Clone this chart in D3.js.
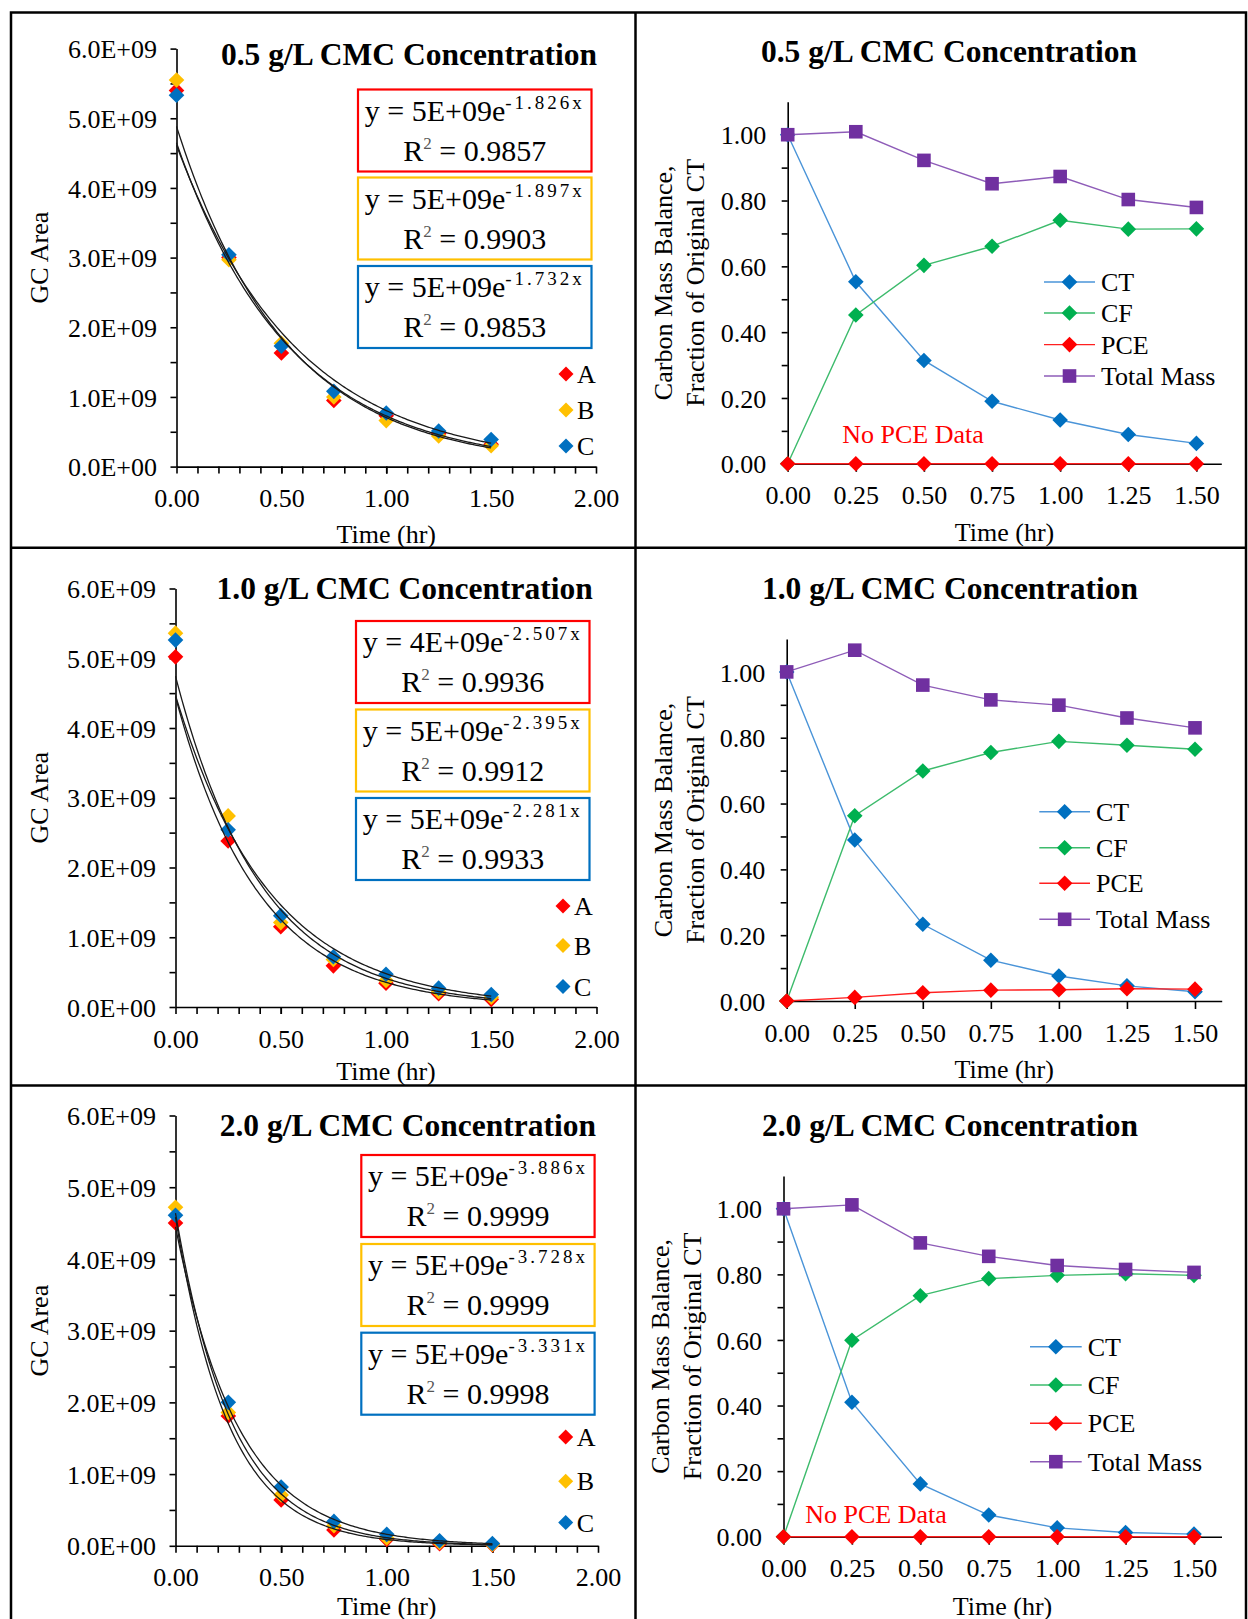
<!DOCTYPE html>
<html>
<head>
<meta charset="utf-8">
<script src="https://cdnjs.cloudflare.com/ajax/libs/d3/7.8.5/d3.min.js"></script>
<style>
  html, body { margin: 0; padding: 0; background: #fff; }
  svg text { font-family: "Liberation Serif", "Times New Roman", serif; fill: #000; }
</style>
</head>
<body>
<svg id="chart" width="1248" height="1619"></svg>
<script>
// ---- data ----
const times = [0, 0.25, 0.5, 0.75, 1.0, 1.25, 1.5];
const reps = ["A", "B", "C"];
const titles = ["0.5 g/L CMC Concentration", "1.0 g/L CMC Concentration", "2.0 g/L CMC Concentration"];

// GC area for replicate A, B, C
const gc05A = [5.40e9, 3.00e9, 1.63e9, 0.95e9, 0.73e9, 0.47e9, 0.32e9];
const gc05B = [5.55e9, 2.97e9, 1.77e9, 1.00e9, 0.66e9, 0.44e9, 0.30e9];
const gc05C = [5.33e9, 3.04e9, 1.73e9, 1.08e9, 0.77e9, 0.51e9, 0.39e9];

const gc10A = [5.02e9, 2.38e9, 1.15e9, 0.59e9, 0.34e9, 0.19e9, 0.11e9];
const gc10B = [5.36e9, 2.74e9, 1.21e9, 0.68e9, 0.38e9, 0.22e9, 0.14e9];
const gc10C = [5.26e9, 2.54e9, 1.31e9, 0.72e9, 0.47e9, 0.27e9, 0.18e9];

const gc20A = [4.50e9, 1.81e9, 0.64e9, 0.22e9, 0.09e9, 0.03e9, 0.013e9];
const gc20B = [4.72e9, 1.86e9, 0.71e9, 0.28e9, 0.11e9, 0.045e9, 0.018e9];
const gc20C = [4.61e9, 2.00e9, 0.82e9, 0.34e9, 0.16e9, 0.07e9, 0.032e9];

// trendline labels
const eqCoef05 = ["5E+09", "5E+09", "5E+09"];
const eqExp05 = ["-1.826", "-1.897", "-1.732"];
const eqR2_05 = ["0.9857", "0.9903", "0.9853"];
const eqCoef10 = ["4E+09", "5E+09", "5E+09"];
const eqExp10 = ["-2.507", "-2.395", "-2.281"];
const eqR2_10 = ["0.9936", "0.9912", "0.9933"];
const eqCoef20 = ["5E+09", "5E+09", "5E+09"];
const eqExp20 = ["-3.886", "-3.728", "-3.331"];
const eqR2_20 = ["0.9999", "0.9999", "0.9998"];

// carbon mass balance, fraction of original CT
const massSeries = ["CT", "CF", "PCE", "Total Mass"];
const ct05 = [1.00, 0.553, 0.314, 0.190, 0.133, 0.089, 0.062];
const cf05 = [0.00, 0.452, 0.603, 0.661, 0.740, 0.713, 0.714];
const pce05 = [0, 0, 0, 0, 0, 0, 0];
const tot05 = [1.00, 1.009, 0.922, 0.851, 0.873, 0.803, 0.779];

const ct10 = [1.00, 0.489, 0.233, 0.124, 0.076, 0.046, 0.028];
const cf10 = [0.00, 0.563, 0.699, 0.755, 0.789, 0.777, 0.765];
const pce10 = [0.00, 0.011, 0.025, 0.033, 0.034, 0.037, 0.036];
const tot10 = [1.00, 1.066, 0.960, 0.915, 0.899, 0.860, 0.830];

const ct20 = [1.00, 0.410, 0.161, 0.066, 0.027, 0.013, 0.008];
const cf20 = [0.00, 0.599, 0.735, 0.787, 0.797, 0.802, 0.797];
const pce20 = [0, 0, 0, 0, 0, 0, 0];
const tot20 = [1.00, 1.012, 0.896, 0.855, 0.827, 0.815, 0.806];

// ---- styles ----
const repColors = ["#FF0000", "#FFC000", "#0070C0"];
const markColors = ["#0070C0", "#00B050", "#FF0000", "#7030A0"];
const lineColors = ["#4A94D8", "#3DBB6C", "#FF2020", "#8E5CB8"];

const svg = d3.select("#chart");

// frame
const frame = svg.append("g").attr("stroke", "#000").attr("stroke-width", 2.5);
frame.append("rect").attr("x", 11).attr("y", 12.5).attr("width", 1235).attr("height", 1640).attr("fill", "none");
frame.append("line").attr("x1", 635.5).attr("x2", 635.5).attr("y1", 12.5).attr("y2", 1660);
frame.append("line").attr("x1", 11).attr("x2", 1246).attr("y1", 547.7).attr("y2", 547.7);
frame.append("line").attr("x1", 11).attr("x2", 1246).attr("y1", 1085.5).attr("y2", 1085.5);

const diamond = r => `M0,${-r}L${r},0L0,${r}L${-r},0Z`;
const square = r => `M${-r},${-r}H${r}V${r}H${-r}Z`;

function expFit(xs, ys) {
  const ly = ys.map(Math.log);
  const mx = d3.mean(xs), my = d3.mean(ly);
  const b = d3.sum(xs, (v, i) => (v - mx) * (ly[i] - my)) / d3.sum(xs, v => (v - mx) * (v - mx));
  const a = Math.exp(my - b * mx);
  return t => a * Math.exp(b * t);
}

function styleAxis(sel) {
  sel.selectAll("path, line").attr("stroke", "#000").attr("stroke-width", 1.6);
  sel.selectAll("text").style("font-size", "26px").attr("fill", "#000");
}

function drawGC(p, series, coefs, exps, r2s, title) {
  const g = svg.append("g");
  const x = d3.scaleLinear().domain([0, 2]).range([p.x0, p.x1]);
  const y = d3.scaleLinear().domain([0, 6e9]).range([p.y0, p.y1]);

  // minor ticks
  g.append("g").attr("transform", `translate(0,${p.y0})`)
    .call(d3.axisBottom(x).tickValues(d3.range(1, 20).map(i => i / 10)).tickSize(7).tickFormat(""))
    .call(styleAxis).select(".domain").remove();
  g.append("g").attr("transform", `translate(${p.x0},0)`)
    .call(d3.axisLeft(y).tickValues(d3.range(1, 12, 2).map(i => i * 0.5e9)).tickSize(6).tickFormat(""))
    .call(styleAxis).select(".domain").remove();

  const xa = g.append("g").attr("transform", `translate(0,${p.y0})`)
    .call(d3.axisBottom(x).tickValues([0, 0.5, 1, 1.5, 2]).tickSize(7).tickSizeOuter(0).tickFormat(d3.format(".2f")))
    .call(styleAxis);
  xa.selectAll("text").attr("y", 31.5).attr("dy", "0.35em");
  const ya = g.append("g").attr("transform", `translate(${p.x0},0)`)
    .call(d3.axisLeft(y).tickValues(d3.range(0, 7).map(i => i * 1e9)).tickSize(6).tickSizeOuter(0)
      .tickFormat(v => v === 0 ? "0.0E+00" : (v / 1e9).toFixed(1) + "E+09"))
    .call(styleAxis);
  ya.selectAll("text").attr("x", -19.5).attr("dy", "0.35em");

  // markers
  series.forEach((s, k) => {
    g.append("g").selectAll("path").data(s).join("path")
      .attr("transform", (d, i) => `translate(${x(times[i])},${y(d)})`)
      .attr("d", diamond(7.8)).attr("fill", repColors[k]);
  });

  // exponential trendlines fitted to each replicate
  series.forEach(s => {
    const f = expFit(times, s);
    const pts = d3.range(0, 151).map(i => i / 100).map(t => [x(t), y(f(t))]);
    g.append("path").attr("d", d3.line()(pts)).attr("fill", "none")
      .attr("stroke", "#1a1a1a").attr("stroke-width", 1.3);
  });

  g.append("text").attr("x", p.titleX).attr("y", p.titleY).attr("text-anchor", "middle")
    .style("font-size", "31.5px").style("font-weight", "bold").text(title);

  // equation boxes
  p.boxes.forEach((top, k) => {
    g.append("rect").attr("x", p.bx0).attr("y", top).attr("width", p.bx1 - p.bx0).attr("height", 82)
      .attr("fill", "#fff").attr("stroke", repColors[k]).attr("stroke-width", 2.2);
    const cx = (p.bx0 + p.bx1) / 2;
    const t1 = g.append("text").attr("x", cx).attr("y", top + 31).attr("text-anchor", "middle").style("font-size", "30px");
    t1.append("tspan").text(`y = ${coefs[k]}e`);
    t1.append("tspan").attr("dy", -12).style("font-size", "19px").style("letter-spacing", "3px").text(`${exps[k]}x`);
    const t2 = g.append("text").attr("x", cx).attr("y", top + 71).attr("text-anchor", "middle").style("font-size", "30px");
    t2.append("tspan").text("R");
    t2.append("tspan").attr("dy", -12).style("font-size", "17px").attr("fill", "#555").text("2");
    t2.append("tspan").attr("dy", 12).text(" = " + r2s[k]);
  });

  // legend
  reps.forEach((r, k) => {
    g.append("path").attr("transform", `translate(${p.lx},${p.ly[k]})`).attr("d", diamond(7.5)).attr("fill", repColors[k]);
    g.append("text").attr("x", p.lx + 11).attr("y", p.ly[k]).attr("dy", "0.35em").style("font-size", "26px").text(r);
  });

  g.append("text").attr("x", (p.x0 + p.x1) / 2).attr("y", p.xlabY).attr("text-anchor", "middle")
    .style("font-size", "26px").text("Time (hr)");
  g.append("text").attr("transform", `translate(${p.ylabX},${(p.y0 + p.y1) / 2}) rotate(-90)`)
    .attr("text-anchor", "middle").style("font-size", "26px").text("GC Area");
}

function drawMass(p, data, title, noPce) {
  const g = svg.append("g");
  const xMax = 1.5 * (p.xEnd - p.x0) / (p.x15 - p.x0);
  const x = d3.scaleLinear().domain([0, xMax]).range([p.x0, p.xEnd]);
  const y = d3.scaleLinear().domain([0, 1.1]).range([p.y0, p.yTop]);

  g.append("g").attr("transform", `translate(${p.x0},0)`)
    .call(d3.axisLeft(y).tickValues([0.1, 0.3, 0.5, 0.7, 0.9]).tickSize(6).tickFormat(""))
    .call(styleAxis).select(".domain").remove();
  const ya = g.append("g").attr("transform", `translate(${p.x0},0)`)
    .call(d3.axisLeft(y).tickValues([0, 0.2, 0.4, 0.6, 0.8, 1.0]).tickSize(6).tickSizeOuter(0).tickFormat(d3.format(".2f")))
    .call(styleAxis);
  ya.selectAll("text").attr("x", -21.5).attr("dy", "0.35em");
  const xa = g.append("g").attr("transform", `translate(0,${p.y0})`)
    .call(d3.axisBottom(x).tickValues(times).tickSize(8).tickSizeOuter(0).tickFormat(d3.format(".2f")))
    .call(styleAxis);
  xa.selectAll("text").attr("y", 31.5).attr("dy", "0.35em");

  const line = d3.line().x((d, i) => x(times[i])).y(d => y(d));
  data.forEach((s, k) => {
    g.append("path").attr("d", line(s)).attr("fill", "none").attr("stroke", lineColors[k]).attr("stroke-width", 1.4);
    g.append("g").selectAll("path").data(s).join("path")
      .attr("transform", (d, i) => `translate(${x(times[i])},${y(d)})`)
      .attr("d", k === 3 ? square(6.8) : diamond(7.8)).attr("fill", markColors[k]);
  });

  g.append("text").attr("x", p.titleX).attr("y", p.titleY).attr("text-anchor", "middle")
    .style("font-size", "31.5px").style("font-weight", "bold").text(title);

  massSeries.forEach((name, k) => {
    const ly = p.ly[k];
    g.append("line").attr("x1", p.lx0).attr("x2", p.lx1).attr("y1", ly).attr("y2", ly)
      .attr("stroke", lineColors[k]).attr("stroke-width", 1.4);
    g.append("path").attr("transform", `translate(${(p.lx0 + p.lx1) / 2},${ly})`)
      .attr("d", k === 3 ? square(6.8) : diamond(7.8)).attr("fill", markColors[k]);
    g.append("text").attr("x", p.lx1 + 6).attr("y", ly).attr("dy", "0.35em").style("font-size", "26px").text(name);
  });

  if (noPce) {
    g.append("text").attr("x", p.npX).attr("y", p.npY).attr("text-anchor", "middle")
      .style("font-size", "26px").style("fill", "#FF0000").text("No PCE Data");
  }

  g.append("text").attr("x", (p.x0 + p.xEnd) / 2).attr("y", p.xlabY).attr("text-anchor", "middle")
    .style("font-size", "26px").text("Time (hr)");
  const yl = g.append("text").attr("transform", `translate(${p.ylabX},${(p.y0 + p.yTop) / 2}) rotate(-90)`)
    .attr("text-anchor", "middle").style("font-size", "26px");
  yl.append("tspan").attr("x", 0).attr("y", 0).text("Carbon Mass Balance,");
  yl.append("tspan").attr("x", 0).attr("y", 31.5).text("Fraction of Original CT");
}

// ---- layout ----
drawGC({ x0: 176.5, x1: 596, y0: 466.6, y1: 48.6, titleX: 409, titleY: 64.5,
  bx0: 358, bx1: 591.5, boxes: [89.5, 177.5, 266], lx: 566, ly: [374, 410, 446],
  xlabY: 543, ylabX: 48 }, [gc05A, gc05B, gc05C], eqCoef05, eqExp05, eqR2_05, titles[0]);
drawGC({ x0: 175.5, x1: 596.5, y0: 1007, y1: 588.5, titleX: 404.7, titleY: 599.4,
  bx0: 356, bx1: 589.5, boxes: [621, 709.5, 798], lx: 563, ly: [906, 945.5, 986.5],
  xlabY: 1079.5, ylabX: 48 }, [gc10A, gc10B, gc10C], eqCoef10, eqExp10, eqR2_10, titles[1]);
drawGC({ x0: 175.5, x1: 598, y0: 1545.8, y1: 1115.5, titleX: 407.8, titleY: 1135.5,
  bx0: 361.3, bx1: 594.6, boxes: [1155, 1244, 1332.7], lx: 565.7, ly: [1437, 1481.3, 1522.6],
  xlabY: 1615, ylabX: 48 }, [gc20A, gc20B, gc20C], eqCoef20, eqExp20, eqR2_20, titles[2]);

drawMass({ x0: 787.7, x15: 1196.4, xEnd: 1221.3, y0: 463.8, yTop: 101.8, titleX: 949, titleY: 61.5,
  lx0: 1044, lx1: 1095, ly: [282, 313, 344.6, 376], npX: 913, npY: 443,
  xlabY: 541, ylabX: 672 }, [ct05, cf05, pce05, tot05], titles[0], true);
drawMass({ x0: 786.7, x15: 1195, xEnd: 1221.7, y0: 1001, yTop: 639, titleX: 950, titleY: 598.5,
  lx0: 1039.3, lx1: 1090, ly: [811.7, 847.7, 883.3, 919.3],
  xlabY: 1078, ylabX: 672 }, [ct10, cf10, pce10, tot10], titles[1], false);
drawMass({ x0: 783.5, x15: 1194, xEnd: 1221.5, y0: 1536.7, yTop: 1176, titleX: 950, titleY: 1135.5,
  lx0: 1030, lx1: 1081.7, ly: [1346.7, 1385, 1423.3, 1461.7], npX: 876, npY: 1522.7,
  xlabY: 1615, ylabX: 669 }, [ct20, cf20, pce20, tot20], titles[2], true);
</script>
</body>
</html>
